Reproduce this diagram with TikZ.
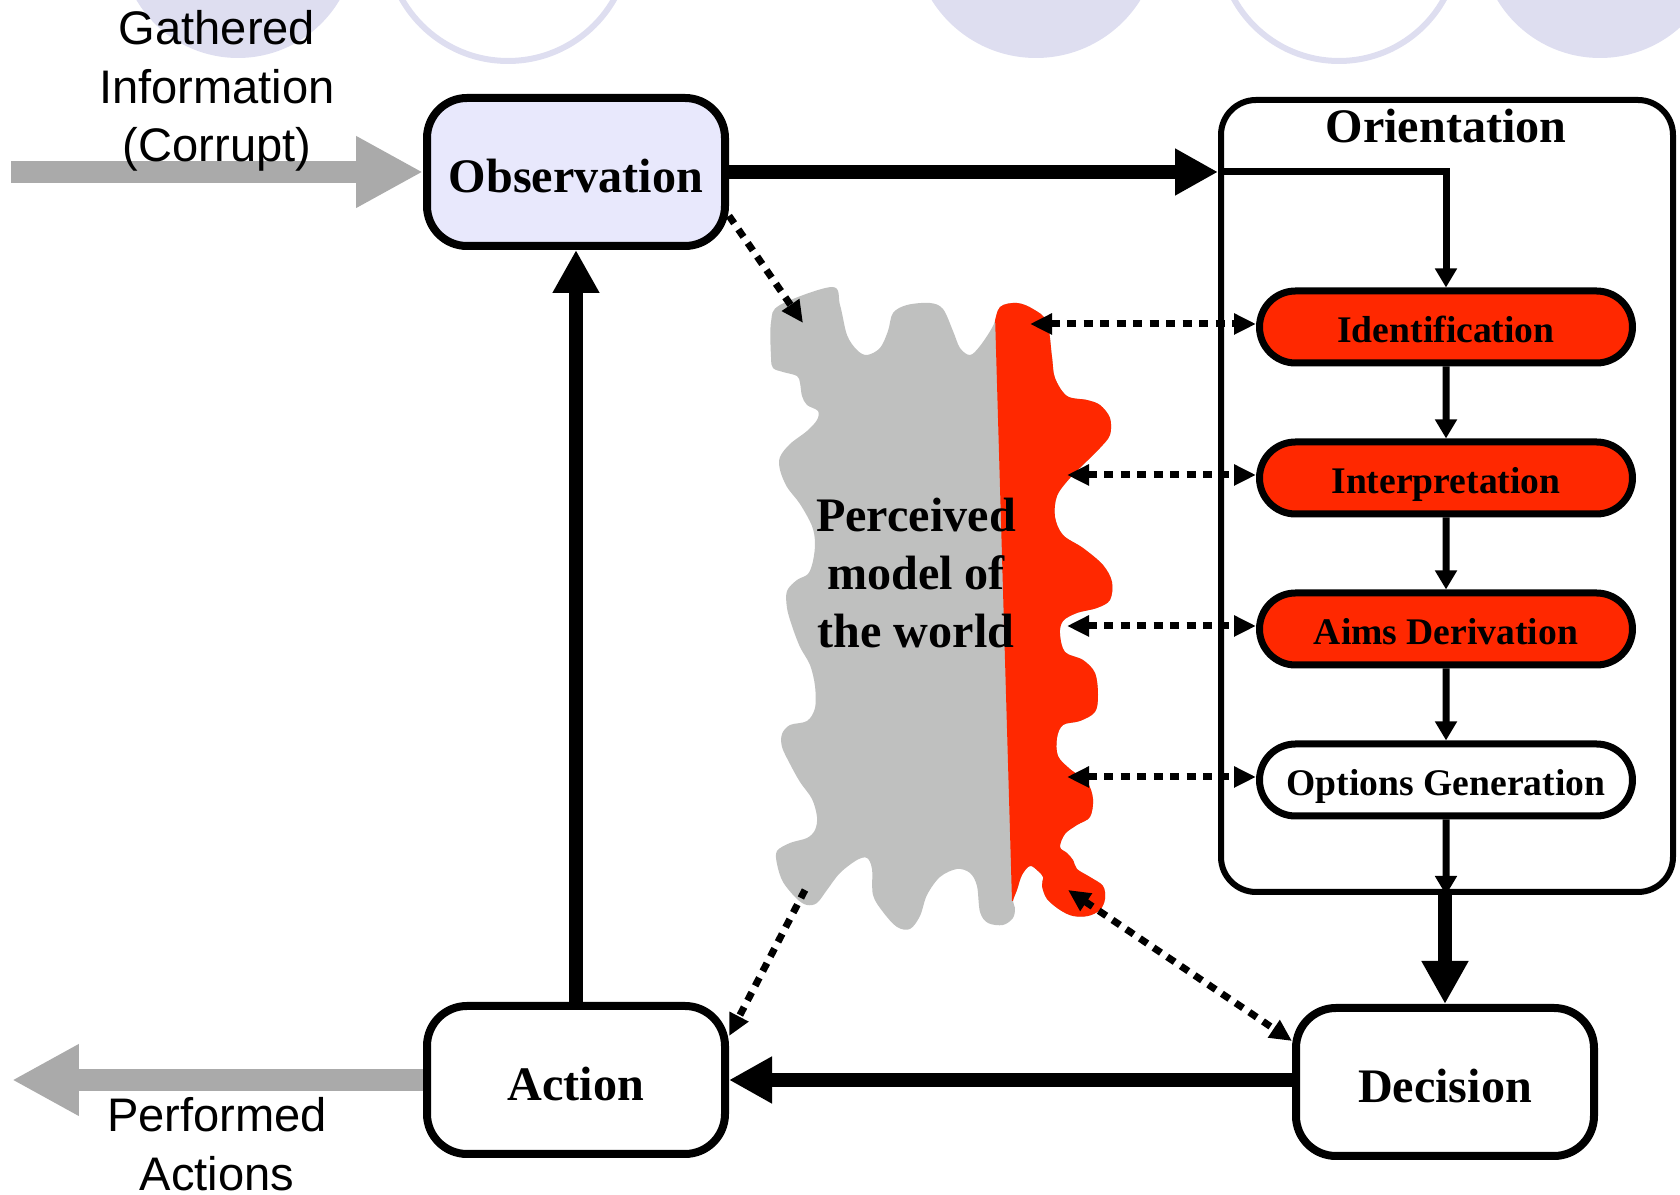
\documentclass[tikz,border=0pt]{standalone}
\usepackage{fontspec}
\setmainfont{Liberation Serif}
\newfontfamily\labelsans{Liberation Sans}
\usetikzlibrary{arrows.meta,shapes.misc,positioning}

\definecolor{lavender}{RGB}{222,222,240}
\definecolor{obsfill}{RGB}{232,232,252}
\definecolor{oodared}{RGB}{255,40,0}
\definecolor{worldgray}{RGB}{191,192,191}
\definecolor{flowgray}{RGB}{170,170,170}

\newcommand{\bigfont}{\fontsize{13.7}{16.5}\selectfont\bfseries}
\newcommand{\pillfont}{\fontsize{10.7}{13}\selectfont\bfseries}
\newcommand{\sansfont}{\labelsans\fontsize{13.4}{16.6}\selectfont}

% outline of the perceived world (pixel units)
\newcommand{\worldoutline}{plot[smooth cycle, tension=0.55] coordinates {
  (771,322) (780,305) (832,287) (840,305) (847,335) (857,350) (867,355) (880,348)
  (888,331) (893,313) (907,305) (930,303) (943,309) (953,331) (960,348) (970,355)
  (980,346) (993,326) (1000,307) (1017,303) (1033,309) (1047,322) (1052,357)
  (1055,378) (1067,396) (1087,400) (1100,405) (1110,418) (1110,435) (1100,448)
  (1087,461) (1070,478) (1057,496) (1055,517) (1063,535) (1083,548) (1103,565)
  (1112,582) (1110,600) (1097,608) (1077,613) (1063,621) (1060,634) (1065,652)
  (1083,660) (1095,673) (1098,695) (1095,712) (1080,721) (1063,725) (1057,738)
  (1058,756) (1070,769) (1087,782) (1093,799) (1090,817) (1077,825) (1065,834)
  (1060,847) (1067,853) (1073,860) (1077,869) (1090,877) (1103,886) (1105,899)
  (1100,910) (1088,916) (1073,916) (1060,910) (1047,899) (1042,886) (1043,877)
  (1038,871) (1030,866) (1022,875) (1017,890) (1013,901) (1015,908) (1013,918)
  (1003,925) (988,923) (980,912) (977,886) (970,873) (957,869) (940,877) (927,895)
  (920,916) (910,929) (897,927) (883,912) (873,895) (872,869) (867,858) (857,860)
  (840,873) (827,890) (817,903) (807,905) (797,899) (783,882) (777,864) (777,851)
  (790,843) (807,838) (815,830) (817,817) (812,799) (800,782) (790,764) (782,747)
  (782,734) (790,725) (807,721) (815,708) (815,686) (810,665) (800,647) (792,626)
  (787,608) (787,591) (797,580) (808,574) (813,561) (815,543) (812,526) (800,504)
  (787,487) (780,470) (780,457) (790,444) (807,431) (817,420) (818,411) (807,405)
  (802,396) (800,383) (797,376) (783,372) (773,368) (771,357)}}

\tikzset{dottip/.tip = {Triangle[length=2.2mm, width=2mm]}}

\begin{document}
\begin{tikzpicture}[x=0.1mm, y=-0.1mm, node distance=15.1mm,
    main/.style = {draw, line width=0.8mm, rounded corners=4mm, minimum width=29.8mm, minimum height=14.8mm, inner sep=0pt, text height=4.1mm, text depth=0mm, font=\bigfont},
    group/.style = {draw, line width=0.6mm, rounded corners=3.5mm, minimum width=45.2mm, minimum height=79.2mm, inner sep=0pt},
    pill/.style = {draw, rounded rectangle, line width=0.7mm, minimum width=37.3mm, minimum height=7.2mm, inner sep=0pt, text height=3.2mm, text depth=0mm, font=\pillfont},
    redpill/.style = {pill, fill=oodared},
    bigarrow/.style = {line width=1.4mm, -{Triangle[length=4.3mm, width=4.4mm]}},
    thinarrow/.style = {line width=0.7mm, -{Triangle[length=1.9mm, width=2.1mm]}},
    dotarrow/.style = {line width=0.7mm, dash pattern=on 0.9mm off 0.75mm},
    grayarrow/.style = {line width=2.2mm, flowgray, -{Triangle[length=6.7mm, width=6.7mm]}},
    sanslabel/.style = {align=center, inner sep=0pt, font=\sansfont}]

    \useasboundingbox (0,0) rectangle (1680,1195);

    % slide decoration
    \fill[lavender] (238,-60) circle[radius=118];
    \draw[lavender, line width=0.6mm] (508,-61) circle[radius=122];
    \fill[lavender] (1036,-65) circle[radius=123];
    \draw[lavender, line width=0.6mm] (1339,-59) circle[radius=120];
    \fill[lavender] (1600,-62) circle[radius=120];

    % perceived model of the world
    \fill[worldgray] \worldoutline;
    \begin{scope}
        \clip (994,280) -- (1012,901) -- (1030,901) -- (1030,960) -- (1200,960) -- (1200,280) -- cycle;
        \fill[oodared] \worldoutline;
    \end{scope}
    \node[align=center, inner sep=0pt, font=\bigfont, anchor=north] (world) at (916,497) {Perceived\\model of\\the world};

    \coordinate (wtop) at (803,323);
    \coordinate (wid) at (1030,324);
    \coordinate (wint) at (1067,475);
    \coordinate (waim) at (1067,626);
    \coordinate (wopt) at (1067,777);
    \coordinate (wdec) at (1068,890);
    \coordinate (wact) at (805,890);

    \node[main, fill=obsfill] (obs) at (576,172) {Observation};
    \node[main] (act) at (576,1080) {Action};
    \node[main] (dec) at (1445,1082) {Decision};
    \node[group] (orient) at (1447,496) {};
    \node[font=\bigfont, inner sep=0pt, anchor=base] (orienttitle) at (1446,143) {Orientation};

    \node[redpill] (ident) at (1446,327) {Identification};
    \node[redpill] (interp) [below of = ident] {Interpretation};
    \node[redpill] (aims) [below of = interp] {Aims Derivation};
    \node[pill] (optgen) [below of = aims] {Options Generation};

    \draw[bigarrow] (obs) -- (obs -| orient.west);
    \draw[thinarrow] (obs -| orient.west) -| (ident.north);
    \draw[thinarrow] (ident) -- (interp);
    \draw[thinarrow] (interp) -- (aims);
    \draw[thinarrow] (aims) -- (optgen);
    \draw[thinarrow] (optgen) -- (optgen |- orient.south);
    \draw[bigarrow] (dec |- orient.south) -- (dec);
    \draw[bigarrow] (act -| dec.west) -- (act);
    \draw[bigarrow] (act) -- (obs);

    \draw[dotarrow, -{dottip}] (obs.-16) -- (wtop);
    \draw[dotarrow, {dottip}-{dottip}] (wid) -- (wid -| ident.west);
    \draw[dotarrow, {dottip}-{dottip}] (wint) -- (wint -| interp.west);
    \draw[dotarrow, {dottip}-{dottip}] (waim) -- (waim -| aims.west);
    \draw[dotarrow, {dottip}-{dottip}] (wopt) -- (wopt -| optgen.west);
    \draw[dotarrow, {dottip}-{dottip}] (wdec) -- (dec.165);
    \draw[dotarrow, -{dottip}] (wact) -- (act.16);

    \coordinate (infoin) at (11,172);
    \coordinate (infoout) at (12,1080);
    \draw[grayarrow] (infoin) -- (obs);
    \draw[grayarrow] (act) -- (infoout);

    \node[sanslabel, anchor=north] (gathered) at (217,10) {Gathered\\Information\\(Corrupt)};
    \node[sanslabel, anchor=north] (performed) at (217,1097) {Performed\\Actions};

\end{tikzpicture}
\end{document}
